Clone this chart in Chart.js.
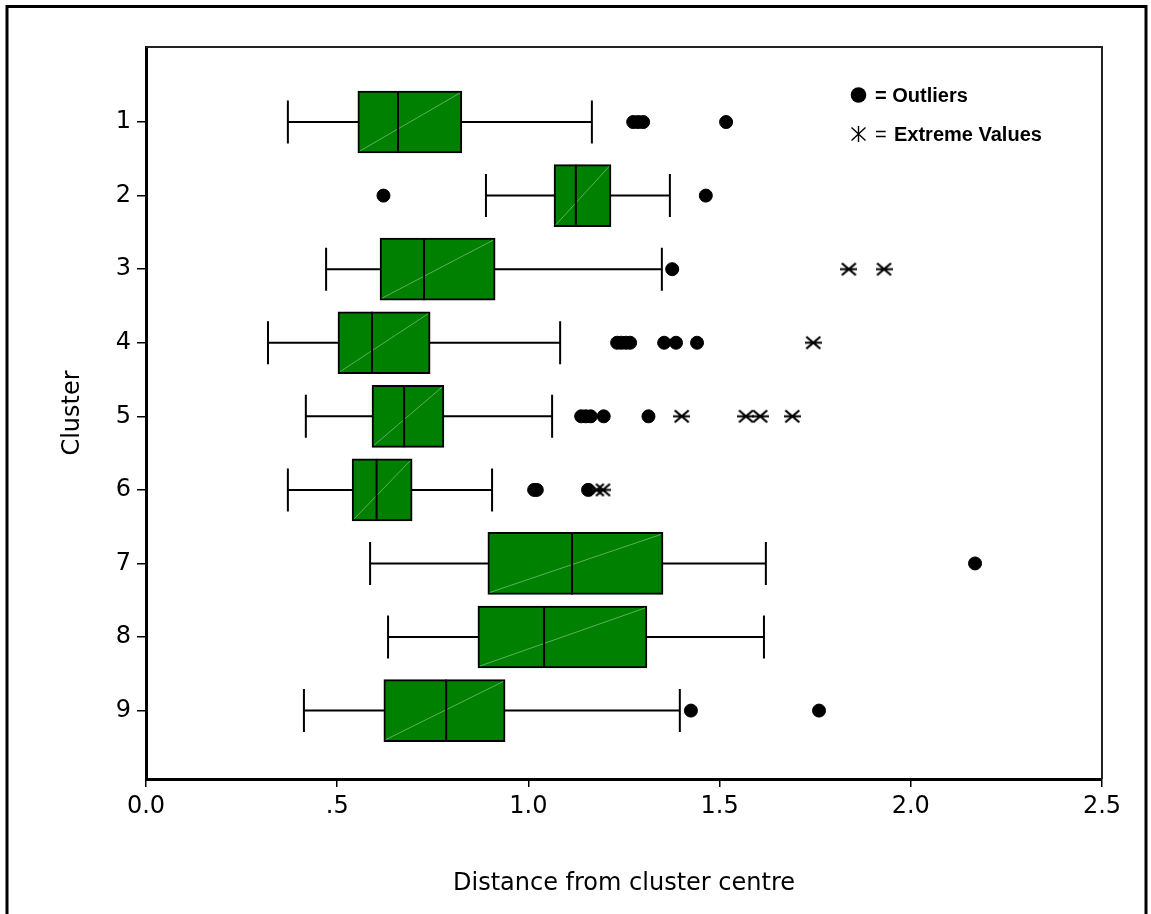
<!DOCTYPE html>
<html>
<head>
<meta charset="utf-8">
<script src="https://cdn.jsdelivr.net/npm/chart.js@4.4.1/dist/chart.umd.min.js"></script>
<style>
  html, body { margin: 0; padding: 0; background: #fff; }
  canvas { display: block; }
</style>
</head>
<body>
<canvas id="grafico" width="1151" height="914"></canvas>
<script>
// valores (distância ao centro do cluster)
const clusters = [1, 2, 3, 4, 5, 6, 7, 8, 9];
const whiskerLow  = [0.371, 0.889, 0.471, 0.319, 0.418, 0.371, 0.586, 0.633, 0.413];
const q1          = [0.554, 1.067, 0.612, 0.502, 0.591, 0.539, 0.894, 0.868, 0.622];
const median      = [0.659, 1.124, 0.727, 0.591, 0.675, 0.603, 1.114, 1.041, 0.785];
const q3          = [0.826, 1.216, 0.913, 0.743, 0.779, 0.696, 1.352, 1.310, 0.939];
const whiskerHigh = [1.166, 1.370, 1.349, 1.083, 1.062, 0.905, 1.621, 1.616, 1.396];
const outliers = [
    [1.274, 1.287, 1.300, 1.517],
    [0.621, 1.464],
    [1.376],
    [1.232, 1.243, 1.255, 1.266, 1.355, 1.386, 1.441],
    [1.138, 1.150, 1.163, 1.197, 1.314],
    [1.015, 1.022, 1.156],
    [2.168],
    [],
    [1.425, 1.760]
];
const extremes = [
    [], [], [1.838, 1.930], [1.745], [1.401, 1.569, 1.606, 1.690], [1.179, 1.195], [], [], []
];
const xTickLabels = ['0.0', '.5', '1.0', '1.5', '2.0', '2.5'];

const fonteEixo = { family: 'DejaVu Sans', size: 24 };

function asterisco(w, h, lw, vertical) {
    const c = document.createElement('canvas');
    c.width = w; c.height = h;
    const g = c.getContext('2d');
    g.strokeStyle = '#000';
    g.lineWidth = lw;
    g.beginPath();
    g.moveTo(1.5, 1.5); g.lineTo(w - 1.5, h - 1.5);
    g.moveTo(w - 1.5, 1.5); g.lineTo(1.5, h - 1.5);
    if (vertical) { g.moveTo(w / 2, 0); g.lineTo(w / 2, h); }
    else { g.moveTo(0, h / 2); g.lineTo(w, h / 2); }
    g.stroke();
    return c;
}
const marcaExtremo = asterisco(17, 15, 2.2, false);
const marcaLegenda = asterisco(17, 16, 1.4, true);

const desenhoCaixas = {
    id: 'desenhoCaixas',
    beforeDraw(chart) {
        const ctx = chart.ctx;
        ctx.save();
        ctx.strokeStyle = '#000';
        ctx.lineWidth = 3;
        ctx.beginPath();
        ctx.moveTo(7, 914); ctx.lineTo(7, 6.5); ctx.lineTo(1146, 6.5); ctx.lineTo(1146, 914);
        ctx.stroke();
        ctx.restore();
    },
    beforeDatasetsDraw(chart) {
        const ctx = chart.ctx, sx = chart.scales.x, sy = chart.scales.y;
        ctx.save();
        ctx.strokeStyle = '#000';
        ctx.lineWidth = 2;
        clusters.forEach((c, i) => {
            const y = sy.getPixelForValue(c);
            const xl = sx.getPixelForValue(whiskerLow[i]);
            const xh = sx.getPixelForValue(whiskerHigh[i]);
            ctx.beginPath();
            ctx.moveTo(xl, y); ctx.lineTo(xh, y);
            ctx.moveTo(xl, y - 21.5); ctx.lineTo(xl, y + 21.5);
            ctx.moveTo(xh, y - 21.5); ctx.lineTo(xh, y + 21.5);
            ctx.stroke();
        });
        ctx.restore();
    },
    afterDatasetDraw(chart, args) {
        if (args.index !== 0) return;
        const ctx = chart.ctx, sx = chart.scales.x;
        const barras = chart.getDatasetMeta(0).data;
        ctx.save();
        barras.forEach((b, i) => {
            const topo = b.y - b.height / 2, base = b.y + b.height / 2;
            ctx.strokeStyle = '#5fae5f';
            ctx.lineWidth = 1;
            ctx.beginPath();
            ctx.moveTo(b.base + 2, base - 2); ctx.lineTo(b.x - 2, topo + 2);
            ctx.stroke();
            const xm = sx.getPixelForValue(median[i]);
            ctx.strokeStyle = '#000';
            ctx.lineWidth = 2;
            ctx.beginPath();
            ctx.moveTo(xm, topo); ctx.lineTo(xm, base);
            ctx.stroke();
        });
        ctx.restore();
    },
    afterDraw(chart) {
        const ctx = chart.ctx, a = chart.chartArea;
        ctx.save();
        ctx.strokeStyle = '#222';
        ctx.lineWidth = 2;
        ctx.beginPath();
        ctx.moveTo(a.left, a.top); ctx.lineTo(a.right, a.top); ctx.lineTo(a.right, a.bottom);
        ctx.stroke();

        // legenda
        ctx.fillStyle = '#000';
        ctx.beginPath();
        ctx.arc(858.5, 95, 7.8, 0, Math.PI * 2);
        ctx.fill();
        ctx.drawImage(marcaLegenda, 850, 126);
        ctx.textBaseline = 'middle';
        ctx.font = 'bold 20px "Liberation Sans"';
        ctx.fillText('= Outliers', 875, 96);
        ctx.font = '20px "Liberation Sans"';
        ctx.fillText('=', 875, 135);
        ctx.font = 'bold 20px "Liberation Sans"';
        ctx.fillText('Extreme Values', 894, 135);
        ctx.restore();
    }
};

const ctx = document.getElementById('grafico').getContext('2d');

window.grafico = new Chart(ctx, {
    type: 'bar',
    data: {
        datasets: [{
            type: 'bar',
            label: 'Box',
            data: clusters.map((c, i) => ({ x: [q1[i], q3[i]], y: c })),
            backgroundColor: '#008000',
            borderColor: '#000',
            borderWidth: 2,
            borderSkipped: false,
            barThickness: 62
        }, {
            type: 'scatter',
            label: 'Outliers',
            data: outliers.flatMap((arr, i) => arr.map(v => ({ x: v, y: clusters[i] }))),
            pointStyle: 'circle',
            pointRadius: 6.5,
            backgroundColor: '#000',
            borderColor: '#000',
            borderWidth: 1
        }, {
            type: 'scatter',
            label: 'Extreme Values',
            data: extremes.flatMap((arr, i) => arr.map(v => ({ x: v, y: clusters[i] }))),
            pointStyle: marcaExtremo,
            pointRadius: 8
        }]
    },
    options: {
        indexAxis: 'y',
        responsive: false,
        animation: false,
        devicePixelRatio: 1,
        layout: { padding: { left: 0, top: 47, right: 49, bottom: 0 } },
        plugins: { legend: { display: false }, tooltip: { enabled: false } },
        scales: {
            x: {
                type: 'linear',
                min: 0,
                max: 2.5,
                offset: false,
                afterFit(scale) { scale.height = 135; },
                ticks: {
                    stepSize: 0.5,
                    color: '#000',
                    font: fonteEixo,
                    padding: 5,
                    maxRotation: 0,
                    callback: (v, i) => xTickLabels[i]
                },
                grid: { offset: false, drawOnChartArea: false, drawTicks: true, tickLength: 8, color: '#000', lineWidth: 1.5 },
                border: { display: true, color: '#000', width: 3 },
                title: {
                    display: true,
                    text: 'Distance from cluster centre',
                    color: '#000',
                    font: fonteEixo,
                    padding: { top: 0, bottom: 16 }
                }
            },
            y: {
                type: 'linear',
                reverse: true,
                min: -0.02,
                max: 9.93,
                offset: false,
                afterFit(scale) { scale.width = 146; },
                afterBuildTicks(scale) { scale.ticks = clusters.map(v => ({ value: v })); },
                ticks: {
                    color: '#000',
                    font: fonteEixo,
                    padding: 6,
                    callback: v => String(v)
                },
                grid: { offset: false, drawOnChartArea: false, drawTicks: true, tickLength: 9, color: '#000', lineWidth: 1.5 },
                border: { display: true, color: '#000', width: 3 },
                title: {
                    display: true,
                    text: 'Cluster',
                    color: '#000',
                    font: fonteEixo,
                    padding: { top: 58, bottom: 0 }
                }
            }
        }
    },
    plugins: [desenhoCaixas]
});
</script>
</body>
</html>
